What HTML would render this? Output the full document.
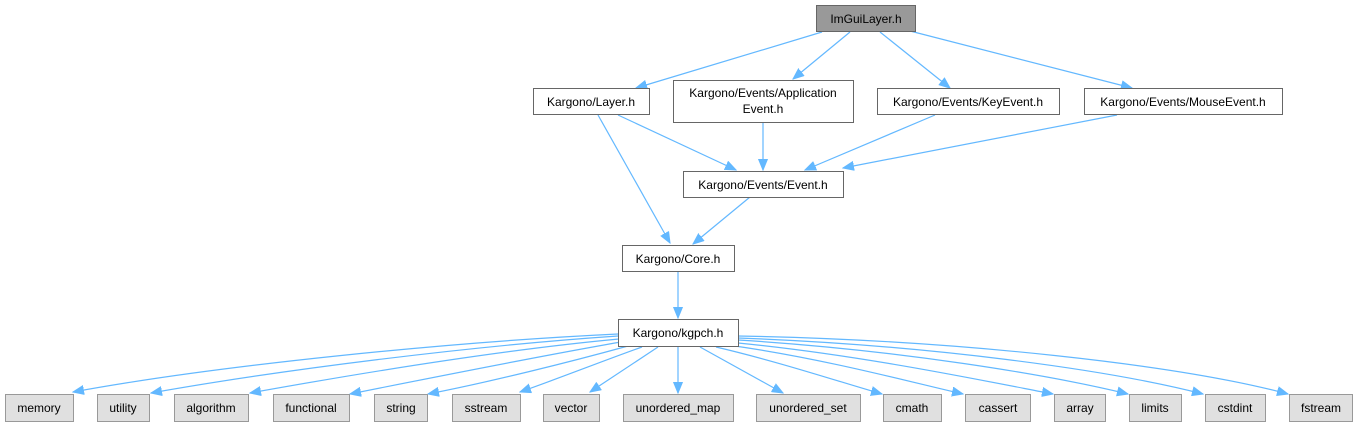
<!DOCTYPE html>
<html><head><meta charset="utf-8"><style>
html,body{margin:0;padding:0;background:#fff;}
svg{display:block;}
text{font-family:"Liberation Sans",Arial,sans-serif;font-size:12px;fill:#000;}
</style></head><body>
<svg width="1360" height="427" viewBox="0 0 1360 427" xmlns="http://www.w3.org/2000/svg">
<defs>
<marker id="a" markerUnits="userSpaceOnUse" markerWidth="12" markerHeight="10" refX="11" refY="5" orient="auto">
<path d="M0,0.5 L11,5 L0,9.5 z" fill="#63b8ff" stroke="#63b8ff"/>
</marker>
</defs>
<g fill="none" stroke="#63b8ff" stroke-width="1.2" marker-end="url(#a)">
<path d="M822,32 L636,88"/>
<path d="M850,32 L793,79"/>
<path d="M880,32 L950,88"/>
<path d="M910,31 L1132,88"/>
<path d="M618,115 L736,170"/>
<path d="M763,123 L763,170"/>
<path d="M935,115 L805,170"/>
<path d="M1117,115 L843,168"/>
<path d="M598,115 L670,243"/>
<path d="M750,197 L693,244"/>
<path d="M678,272 L678,318"/>
<path d="M618,334 C450,342 220,365 73,392"/>
<path d="M618,336 C470,346 280,370 151,393"/>
<path d="M619,339 C500,350 350,375 250,393"/>
<path d="M621,342 C540,356 430,378 350,394"/>
<path d="M628,346 C570,362 490,382 428,394"/>
<path d="M642,347 C600,362 560,378 520,392"/>
<path d="M658,347 L590,392"/>
<path d="M678,347 L678,393"/>
<path d="M700,347 L783,393"/>
<path d="M716,347 C780,362 840,382 882,394"/>
<path d="M735,346 C830,360 910,382 963,394"/>
<path d="M738,343 C860,355 980,380 1053,394"/>
<path d="M738,340 C900,350 1050,375 1128,394"/>
<path d="M738,338 C930,345 1110,370 1203,394"/>
<path d="M738,336 C960,340 1180,365 1288,394"/>
</g>
<g stroke-width="1">
<rect x="816.5" y="5.5" width="99" height="26" fill="#999" stroke="#666"/>
<g fill="#fff" stroke="#666">
<rect x="533.5" y="88.5" width="116" height="26"/>
<rect x="673.5" y="80.5" width="180" height="42"/>
<rect x="877.5" y="88.5" width="182" height="26"/>
<rect x="1084.5" y="88.5" width="198" height="26"/>
<rect x="683.5" y="171.5" width="160" height="26"/>
<rect x="622.5" y="245.5" width="112" height="26"/>
<rect x="618.5" y="319.5" width="120" height="27"/>
</g>
<g fill="#e0e0e0" stroke="#999">
<rect x="5.5" y="394.5" width="68" height="27"/>
<rect x="97.5" y="394.5" width="52" height="27"/>
<rect x="174.5" y="394.5" width="74" height="27"/>
<rect x="273.5" y="394.5" width="76" height="27"/>
<rect x="374.5" y="394.5" width="53" height="27"/>
<rect x="452.5" y="394.5" width="68" height="27"/>
<rect x="543.5" y="394.5" width="56" height="27"/>
<rect x="623.5" y="394.5" width="110" height="27"/>
<rect x="756.5" y="394.5" width="104" height="27"/>
<rect x="883.5" y="394.5" width="58" height="27"/>
<rect x="965.5" y="394.5" width="65" height="27"/>
<rect x="1054.5" y="394.5" width="51" height="27"/>
<rect x="1129.5" y="394.5" width="52" height="27"/>
<rect x="1205.5" y="394.5" width="60" height="27"/>
<rect x="1289.5" y="394.5" width="63" height="27"/>
</g>
</g>
<g text-anchor="middle">
<text x="866" y="23">ImGuiLayer.h</text>
<text x="591" y="106">Kargono/Layer.h</text>
<text x="763" y="97">Kargono/Events/Application</text>
<text x="763" y="113">Event.h</text>
<text x="968" y="106">Kargono/Events/KeyEvent.h</text>
<text x="1183" y="106">Kargono/Events/MouseEvent.h</text>
<text x="763" y="189">Kargono/Events/Event.h</text>
<text x="678" y="263">Kargono/Core.h</text>
<text x="678" y="337">Kargono/kgpch.h</text>
<text x="39" y="412">memory</text>
<text x="123" y="412">utility</text>
<text x="211" y="412">algorithm</text>
<text x="311" y="412">functional</text>
<text x="401" y="412">string</text>
<text x="486" y="412">sstream</text>
<text x="571" y="412">vector</text>
<text x="678" y="412">unordered_map</text>
<text x="808" y="412">unordered_set</text>
<text x="912" y="412">cmath</text>
<text x="998" y="412">cassert</text>
<text x="1080" y="412">array</text>
<text x="1155" y="412">limits</text>
<text x="1235" y="412">cstdint</text>
<text x="1321" y="412">fstream</text>
</g>
</svg>
</body></html>
